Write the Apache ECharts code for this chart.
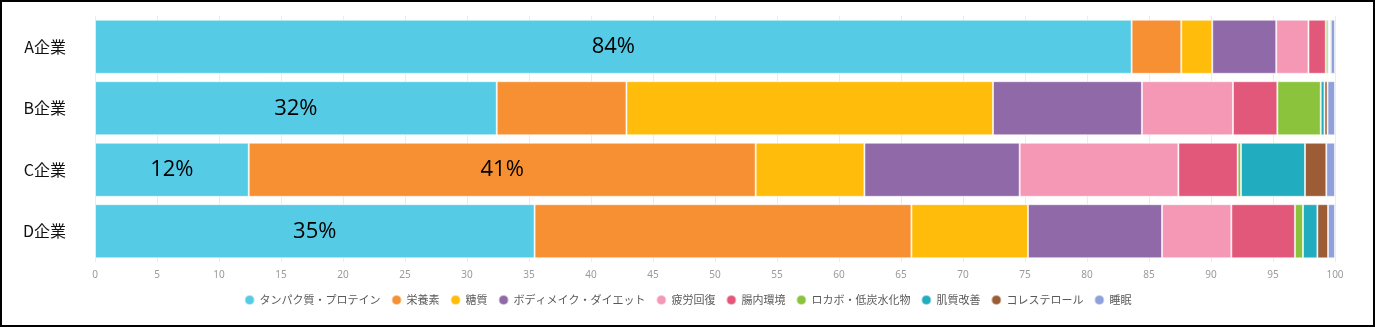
<!DOCTYPE html>
<html>
<head>
<meta charset="utf-8">
<script src="https://cdn.jsdelivr.net/npm/echarts@6/dist/echarts.min.js"></script>
<style>
  html, body { margin: 0; padding: 0; background: #fff; }
  #wrap { position: relative; width: 1375px; height: 327px; }
  #chart { width: 1375px; height: 327px; }
  #frame { position: absolute; left: 0; top: 0; right: 0; bottom: 0;
           border: 2px solid #000; box-sizing: border-box; pointer-events: none; }
</style>
</head>
<body>
<div id="wrap"><div id="chart"></div><div id="frame"></div></div>
<script>
// Companies (rows, top to bottom)
const categories = ['A企業', 'B企業', 'C企業', 'D企業'];

// Share of each theme per company (%)
const seriesNames = [
  'タンパク質・プロテイン', '栄養素', '糖質', 'ボディメイク・ダイエット', '疲労回復',
  '腸内環境', 'ロカボ・低炭水化物', '肌質改善', 'コレステロール', '睡眠'
];
const protein   = [83.6, 32.4, 12.4, 35.45];
const nutrients = [4.0, 10.46, 40.88, 30.39];
const sugar     = [2.5, 29.56, 8.77, 9.4];
const bodyMake  = [5.16, 12.01, 12.52, 10.81];
const fatigue   = [2.6, 7.34, 12.8, 5.59];
const gut       = [1.4, 3.58, 4.78, 5.13];
const lowCarb   = [0.2, 3.5, 0.27, 0.65];
const skin      = [0.1, 0.3, 5.16, 1.16];
const cholesterol = [0.1, 0.25, 1.72, 0.86];
const sleep     = [0.34, 0.6, 0.7, 0.56];
const seriesValues = [protein, nutrients, sugar, bodyMake, fatigue, gut, lowCarb, skin, cholesterol, sleep];

// Axis ticks
const xMin = 0, xMax = 100, xStep = 5;

// Which segments carry a percentage label (series index -> row indices)
const labelledCells = { 0: [0, 1, 2, 3], 1: [2] };

const colors = ['#55cbe5', '#f79032', '#ffbc0b', '#906aa8', '#f498b6',
                '#e2587b', '#8bc43c', '#22acbf', '#9c5d36', '#8fa0db'];

const series = seriesNames.map((name, si) => ({
  name,
  type: 'bar',
  stack: 'total',
  barCategoryGap: '12%',
  itemStyle: { color: colors[si], borderColor: 'rgba(255,255,255,0.55)', borderWidth: 1 },
  data: seriesValues[si].map((v, ci) => {
    const show = (labelledCells[si] || []).includes(ci);
    return {
      value: v,
      label: {
        show,
        position: 'inside',
        formatter: (p) => Math.round(p.value) + '%',
        color: '#000',
        fontSize: 22,
        fontFamily: '"Open Sans", "Noto Sans", sans-serif'
      }
    };
  })
}));

const chart = echarts.init(document.getElementById('chart'), null, { renderer: 'canvas' });
chart.setOption({
  animation: false,
  color: colors,
  grid: { left: 95, right: 40, top: 16, bottom: 65, containLabel: false },
  legend: {
    bottom: 16,
    left: 'center',
    icon: 'circle',
    itemWidth: 10,
    itemHeight: 10,
    itemGap: 10,
    textStyle: { color: '#595959', fontSize: 11, fontFamily: '"Noto Sans CJK JP", sans-serif' },
    data: seriesNames
  },
  xAxis: {
    type: 'value',
    min: xMin, max: xMax, interval: xStep,
    axisLine: { show: false },
    axisTick: { show: false },
    axisLabel: { color: '#9a9a9a', fontSize: 10, margin: 8, fontFamily: '"Noto Sans", sans-serif' },
    splitLine: { show: true, lineStyle: { color: '#ececec', width: 1 } }
  },
  yAxis: {
    type: 'category',
    data: categories,
    inverse: true,
    axisLine: { show: false },
    axisTick: { show: false },
    axisLabel: { color: '#111', fontSize: 16, margin: 29, fontFamily: '"Noto Sans CJK JP", sans-serif' }
  },
  series
});
</script>
</body>
</html>
